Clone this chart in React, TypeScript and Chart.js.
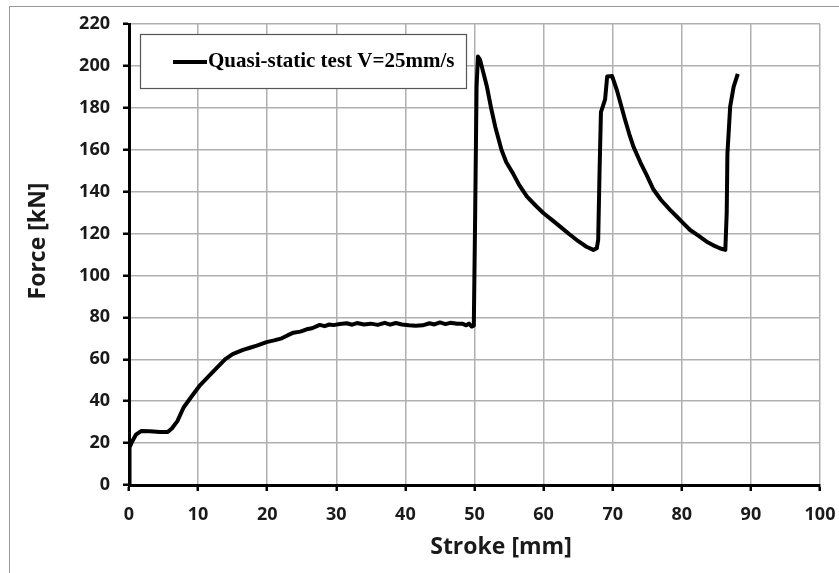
import React, { useEffect, useRef } from "react";
import { Chart, registerables } from "chart.js";

Chart.register(...registerables);

const strokeMm = [
  0, 0.05, 0.1, 0.5, 1.0, 1.8, 3.0, 4.5, 5.6, 6.2, 7.0, 7.9, 9.0, 10.3, 12.0, 13.9, 15.0, 16.5, 17.5, 18.5,
  19.9, 21.0, 22.1, 23.0, 23.8, 24.8, 25.7, 26.5, 27.6, 28.3, 29.0, 29.6, 30.5, 31.5, 32.3, 33.0, 34.0, 35.0,
  36.0, 37.0, 37.8, 38.6, 39.5, 40.5, 41.5, 42.5, 43.5, 44.2, 45.0, 45.8, 46.5, 47.5, 48.3, 48.8, 49.2, 49.6,
  49.9, 50.1, 50.3, 50.5, 50.8, 51.8, 52.4, 53.0, 53.9, 54.6, 55.6, 56.5, 57.6, 58.8, 60.0, 61.2, 62.4, 63.6,
  64.8, 65.5, 66.2, 67.2, 67.7, 67.9, 68.1, 68.3, 68.9, 69.2, 69.9, 70.6, 71.8, 72.4, 73.0, 74.0, 74.9, 75.9,
  77.0, 78.3, 79.3, 80.2, 81.2, 82.4, 83.6, 84.5, 85.5, 86.3, 86.5, 86.6, 87.0, 87.5, 88.1,
];
const forceKN = [
  0, 10, 18, 21, 24, 25.8, 25.7, 25.3, 25.3, 27, 30.5, 37, 42, 47.7, 53.5, 60, 62.5, 64.5, 65.5, 66.5,
  68.2, 69, 70, 71.5, 72.7, 73.2, 74.3, 74.8, 76.4, 75.8, 76.6, 76.3, 76.8, 77.2, 76.5, 77.3, 76.6, 77.0,
  76.4, 77.4, 76.5, 77.3, 76.6, 76.2, 76.0, 76.2, 77.2, 76.6, 77.6, 76.8, 77.4, 77.0, 76.9, 76.2, 77.0, 75.6,
  76, 130, 190, 204.5, 203, 190, 180, 171, 160, 154, 148.5, 143, 137.6, 133.5, 129.7, 126.5, 123.3, 120,
  116.9, 115.3, 113.7, 112.2, 113, 117, 150, 178, 184, 194.9, 195.2, 188.5, 174.2, 167.5, 161.5, 154, 148, 141,
  136, 131.3, 128, 125, 121.7, 119, 116.1, 114.5, 113, 112.2, 130, 158, 180.6, 190, 196.2,
];
const legendLabel = "Quasi-static test V=25mm/s";
const xTitle = "Stroke [mm]";
const yTitle = "Force [kN]";

const overlayPlugin = {
  id: "overlay",
  afterDraw(chart: any) {
    const ctx = chart.ctx as CanvasRenderingContext2D;
    ctx.save();
    // legend box
    ctx.fillStyle = "#ffffff";
    ctx.fillRect(140, 34, 326, 54);
    ctx.strokeStyle = "#555555";
    ctx.lineWidth = 1.2;
    ctx.strokeRect(140.5, 34.5, 326, 54);
    ctx.strokeStyle = "#000000";
    ctx.lineWidth = 4;
    ctx.beginPath();
    ctx.moveTo(173, 62);
    ctx.lineTo(207, 62);
    ctx.stroke();
    ctx.fillStyle = "#000000";
    ctx.font = "bold 21px 'Liberation Serif'";
    ctx.textBaseline = "middle";
    ctx.textAlign = "left";
    ctx.fillText(legendLabel, 208, 62);
    // axis titles
    ctx.fillStyle = "#1a1a1a";
    ctx.font = "bold 23px 'Open Sans'";
    ctx.textAlign = "center";
    ctx.fillText(xTitle, 501, 547);
    ctx.translate(38, 241);
    ctx.rotate(-Math.PI / 2);
    ctx.fillText(yTitle, 0, 0);
    ctx.restore();
  },
};

export default function App() {
  const ref = useRef<HTMLCanvasElement | null>(null);
  useEffect(() => {
    if (!ref.current) return;
    const data = strokeMm.map((x, i) => ({ x, y: forceKN[i] }));
    const tickFont = { family: "'Open Sans'", size: 18, weight: "bold" as const };
    const chart = new Chart(ref.current, {
      type: "line",
      data: {
        datasets: [
          {
            label: legendLabel,
            data,
            borderColor: "#000000",
            borderWidth: 4,
            pointRadius: 0,
            tension: 0,
            fill: false,
            borderJoinStyle: "round",
          },
        ],
      },
      options: {
        animation: false,
        responsive: false,
        maintainAspectRatio: false,
        layout: { padding: { left: 0, right: 19, top: 24, bottom: 0 } },
        plugins: { legend: { display: false }, tooltip: { enabled: false } },
        scales: {
          x: {
            type: "linear",
            min: 0,
            max: 100,
            ticks: { stepSize: 10, color: "#1a1a1a", font: tickFont, padding: 13, maxRotation: 0 },
            grid: { color: "#b0b0b0", lineWidth: 1.5, tickColor: "#000000", tickLength: 6, tickWidth: 2.5 },
            border: { color: "#000000", width: 3 },
            afterFit: (s: any) => {
              s.height = 88;
              s.paddingLeft = 0;
              s.paddingRight = 0;
            },
          },
          y: {
            type: "linear",
            min: 0,
            max: 220,
            ticks: { stepSize: 20, color: "#1a1a1a", font: tickFont, padding: 13 },
            grid: { color: "#b0b0b0", lineWidth: 1.5, tickColor: "#000000", tickLength: 6, tickWidth: 2.5 },
            border: { color: "#000000", width: 3 },
            afterFit: (s: any) => {
              s.width = 129;
              s.paddingTop = 0;
              s.paddingBottom = 0;
            },
          },
        },
      },
      plugins: [overlayPlugin],
    });
    return () => chart.destroy();
  }, []);
  return (
    <div style={{ position: "absolute", left: 0, top: 0, width: 839, height: 573, background: "#fff" }}>
      <div
        style={{
          position: "absolute",
          left: 9,
          top: 6,
          right: -2,
          bottom: -2,
          borderLeft: "1px solid #999",
          borderTop: "1px solid #999",
        }}
      />
      <canvas ref={ref} width={839} height={573} style={{ position: "absolute", left: 0, top: 0 }} />
    </div>
  );
}
